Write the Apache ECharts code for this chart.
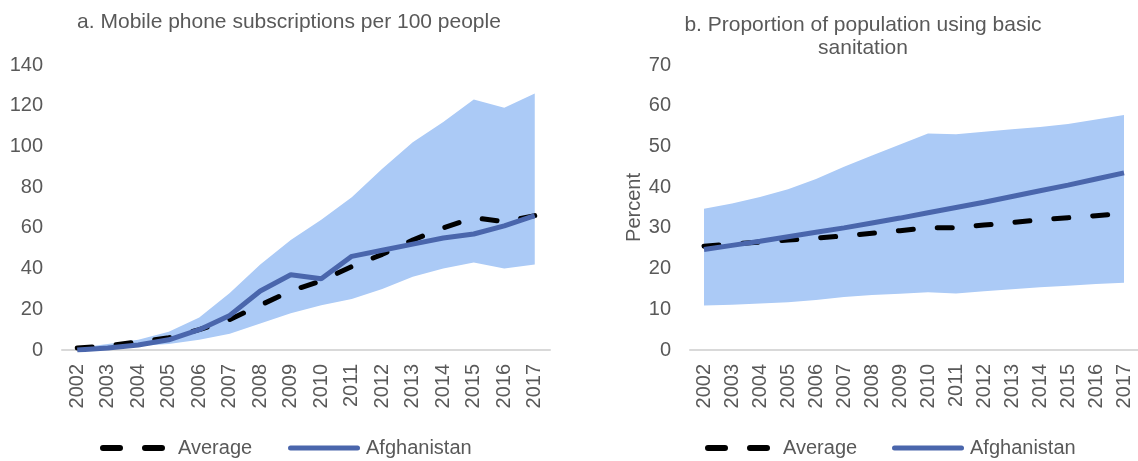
<!DOCTYPE html>
<html><head><meta charset="utf-8">
<script src="https://cdn.jsdelivr.net/npm/echarts@6/dist/echarts.min.js"></script>
<style>html,body{margin:0;padding:0;background:#fff}#c{width:1138px;height:461px}</style>
</head><body><div id="c"></div>
<script>
const years = ['2002','2003','2004','2005','2006','2007','2008','2009','2010','2011','2012','2013','2014','2015','2016','2017'];
const mobileAverage = [1, 2, 4, 6, 10, 15, 22, 29, 34, 41, 47, 54, 60, 65, 63, 66];
const mobileAfghanistan = [0, 1, 2.5, 5, 10, 17, 29, 37, 35, 46, 49, 52, 55, 57, 61, 66];
const mobileUpper = [1, 3, 5, 9, 16, 28, 42, 54, 64, 75, 89, 102, 112, 123, 119, 126];
const mobileLower = [0, 1, 2, 3, 5, 8, 13, 18, 22, 25, 30, 36, 40, 43, 40, 42];
const sanAverage = [25.5, 26, 26.5, 27, 27.5, 28, 28.7, 29.3, 30, 30, 30.7, 31.3, 32, 32.5, 33, 33.5];
const sanAfghanistan = [24.7, 25.7, 26.7, 27.8, 28.9, 30, 31.2, 32.4, 33.7, 35, 36.3, 37.7, 39.1, 40.5, 42, 43.5];
const sanUpper = [34.7, 36, 37.6, 39.5, 42, 45, 47.8, 50.5, 53.2, 53, 53.6, 54.2, 54.8, 55.5, 56.6, 57.7];
const sanLower = [10.9, 11.1, 11.4, 11.7, 12.3, 13, 13.5, 13.8, 14.2, 13.9, 14.4, 14.9, 15.4, 15.8, 16.2, 16.5];
const titleA = 'a. Mobile phone subscriptions per 100 people';
const titleB = 'b. Proportion of population using basic\nsanitation';

const FONT = '"Liberation Sans", Arial, sans-serif';
const GREY = '#595959';
const BAND = '#abcaf6';
const BLUE = '#4a66ac';

function xAxis(gi){
  return {type:'category', gridIndex:gi, data:years, boundaryGap:true,
    axisLine:{lineStyle:{color:'#d9d9d9', width:2}}, axisTick:{show:false},
    axisLabel:{rotate:90, interval:0, color:GREY, fontSize:20, fontFamily:FONT, margin:14}};
}
function yAxis(gi, max, interval, name){
  return {type:'value', gridIndex:gi, min:0, max:max, interval:interval,
    name:name||'', nameLocation:'middle', nameGap:40, nameRotate:90,
    nameTextStyle:{color:GREY, fontSize:20, fontFamily:FONT},
    splitLine:{show:false}, axisLine:{show:false}, axisTick:{show:false},
    axisLabel:{color:GREY, fontSize:20, fontFamily:FONT, margin:19}};
}
function band(gi, lower, upper, stack){
  const diff = upper.map((u,i)=>+(u-lower[i]).toFixed(2));
  return [
    {type:'line', xAxisIndex:gi, yAxisIndex:gi, stack:stack, data:lower, symbol:'none',
      lineStyle:{opacity:0}, areaStyle:{opacity:0}, silent:true, z:1},
    {type:'line', xAxisIndex:gi, yAxisIndex:gi, stack:stack, data:diff, symbol:'none',
      lineStyle:{opacity:0}, areaStyle:{color:BAND, opacity:1}, silent:true, z:1}
  ];
}
function lines(gi, avg, afg){
  return [
    {name:'Average', type:'line', xAxisIndex:gi, yAxisIndex:gi, data:avg, symbol:'none',
      lineStyle:{color:'#000', width:5, type:[15,24], cap:'round'}, itemStyle:{color:'#000'}, z:3},
    {name:'Afghanistan', type:'line', xAxisIndex:gi, yAxisIndex:gi, data:afg, symbol:'none',
      lineStyle:{color:BLUE, width:5}, itemStyle:{color:BLUE}, z:4}
  ];
}
const dashIcon = 'path://M3,0H20A3,3 0 0 1 20,6H3A3,3 0 0 1 3,0Z M45,0H62A3,3 0 0 1 62,6H45A3,3 0 0 1 45,0Z';
const solidIcon = 'path://M2.5,0H69.5A2.5,2.5 0 0 1 69.5,5H2.5A2.5,2.5 0 0 1 2.5,0Z';
function legend(name, left, isDash){
  return {left:left, top:438, orient:'horizontal', padding:0,
    itemWidth: isDash ? 65 : 72, itemHeight: isDash ? 6 : 5,
    itemStyle:{borderWidth:0},
    textStyle:{color:GREY, fontSize:20, fontFamily:FONT, padding: isDash ? [0,0,0,8] : [0,0,0,1]},
    data:[{name:name, icon: isDash ? dashIcon : solidIcon}]};
}

const chart = echarts.init(document.getElementById('c'), null, {renderer:'canvas'});
chart.setOption({
  animation:false,
  title:[
    {text:titleA, left:284, top:7, textAlign:'center', textStyle:{color:GREY, fontSize:21, fontWeight:'normal', fontFamily:FONT}},
    {text:titleB, left:858, top:9, textAlign:'center', textStyle:{color:GREY, fontSize:21, fontWeight:'normal', fontFamily:FONT, lineHeight:23}}
  ],
  grid:[
    {left:62, top:65, width:488, height:285},
    {left:690, top:65, width:454, height:285}
  ],
  xAxis:[xAxis(0), xAxis(1)],
  yAxis:[yAxis(0,140,20), yAxis(1,70,10,'Percent')],
  legend:[
    legend('Average', 100, true),
    legend('Afghanistan', 288, false),
    legend('Average', 705, true),
    legend('Afghanistan', 892, false)
  ],
  series:[].concat(
    band(0, mobileLower, mobileUpper, 'b0'),
    lines(0, mobileAverage, mobileAfghanistan),
    band(1, sanLower, sanUpper, 'b1'),
    lines(1, sanAverage, sanAfghanistan)
  )
});
</script></body></html>
